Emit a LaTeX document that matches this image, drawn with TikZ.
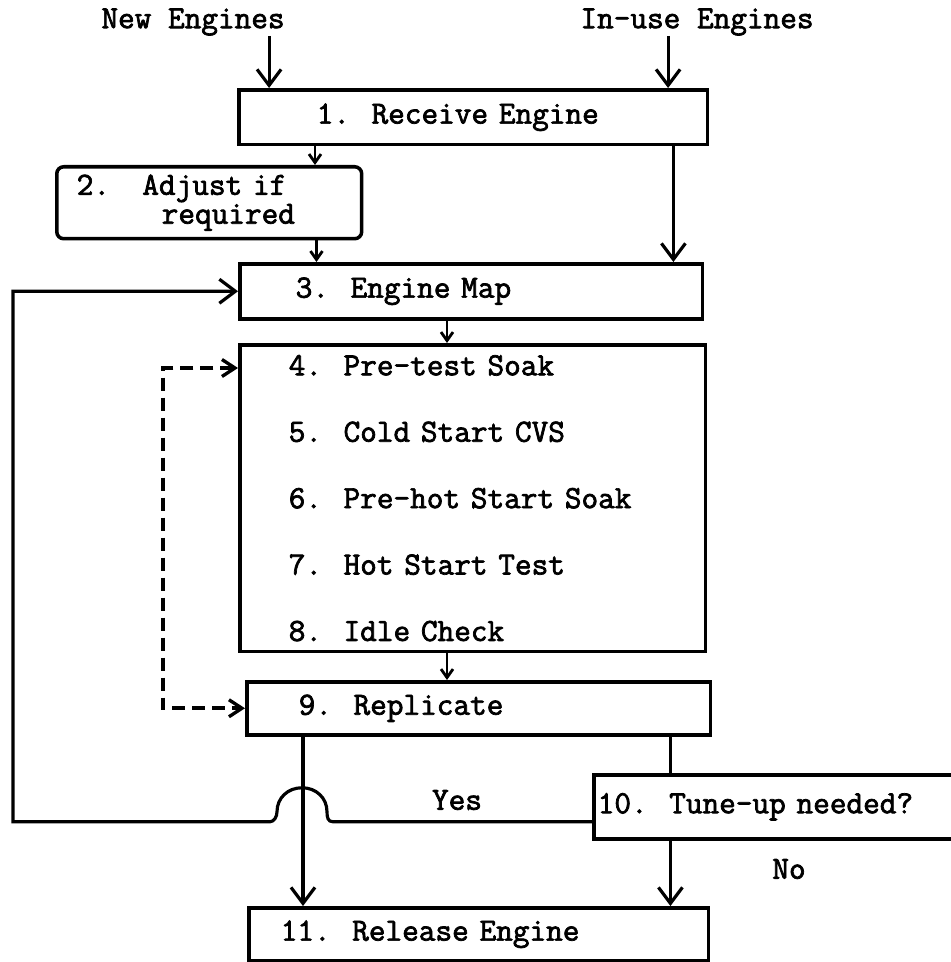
\documentclass[tikz,border=0pt]{standalone}
\usepackage{fontspec}
\usepackage{tikz}
\usetikzlibrary{arrows.meta,calc}
\newfontfamily\tyfont{Latin Modern Mono}[FakeBold=2.2]
\tikzset{
    stage/.style={rectangle, draw, line width=2pt, anchor=north west,
        inner xsep=0pt, inner ysep=0pt, align=left,
        font=\tyfont\fontsize{18.4}{20}\selectfont},
    tag/.style={font=\tyfont\fontsize{18.4}{20}\selectfont, inner sep=0pt},
    flow/.style={-{Straight Barb[length=3.2mm,width=4.8mm,line width=1.8pt]},
        line width=1.8pt},
    nudge/.style={-{Straight Barb[length=1.7mm,width=2.4mm,line width=1.6pt]},
        line width=1.6pt},
    backflow/.style={{Straight Barb[length=2.6mm,width=3.4mm,line width=1.9pt]}-{Straight Barb[length=2.6mm,width=3.4mm,line width=1.9pt]},
        line width=2.1pt, dash pattern=on 0.26cm off 0.14cm}
}

\begin{document}
\begin{tikzpicture}[x=0.02cm, y=-0.02cm]
    \useasboundingbox (0,0) rectangle (950,962);
    % inputs
    \node[tag] (newin) at (193,22) {New Engines};
    \node[tag] (usedin) at (697,22) {In-use Engines};
    % stages
    \node[stage, text width=9.38cm, minimum height=1.10cm] (recv) at (237,88)
        {\hspace*{1.56cm}1.~~Receive Engine};
    \node[stage, rounded corners=4pt, text width=6.10cm, minimum height=1.44cm,
        font=\tyfont\fontsize{18.4}{14}\selectfont] (adjust) at (55,165)
        {\hspace*{0.4cm}2.~~~Adjust if\\\hspace*{2.1cm}required};
    \node[stage, text width=9.26cm, minimum height=1.10cm] (map) at (238,262)
        {\hspace*{1.12cm}3.~~Engine Map};
    \node[stage, text width=9.32cm, minimum height=6.14cm,
        font=\tyfont\fontsize{18.4}{37.8}\selectfont] (tests) at (238,343)
        {\hspace*{0.98cm}4.~~Pre-test Soak\\
         \hspace*{0.98cm}5.~~Cold Start CVS\\
         \hspace*{0.98cm}6.~~Pre-hot Start Soak\\
         \hspace*{0.98cm}7.~~Hot Start Test\\
         \hspace*{0.98cm}8.~~Idle Check};
    \node[stage, text width=9.28cm, minimum height=1.06cm] (repl) at (245,680)
        {\hspace*{1.04cm}9.~~Replicate};
    \node[stage, text width=7.26cm, minimum height=1.28cm] (tune) at (592,773)
        {\hspace*{0.08cm}10.~~Tune-up needed?};
    \node[stage, text width=9.20cm, minimum height=1.06cm] (release) at (247,906)
        {\hspace*{0.64cm}11.~~Release Engine};
    \node[tag] (yes) at (457,800) {Yes};
    \node[tag] (no) at (789,869) {No};
    % connectors
    \draw[flow] ($(newin.south west)+(168,0)$) coordinate (a) -- (a |- recv.north);
    \draw[flow] ($(usedin.south west)+(88,0)$) coordinate (b) -- (b |- recv.north);
    \draw[nudge] ($(recv.south west)+(78,0)$) coordinate (c) -- (c |- adjust.north);
    \draw[flow] ($(recv.south east)+(-36,0)$) coordinate (d) -- (d |- map.north);
    \draw[nudge] ($(adjust.south east)+(-47,0)$) coordinate (e) -- (e |- map.north);
    \draw[nudge] ($(map.south west)+(209,0)$) coordinate (f) -- (f |- tests.north);
    \draw[nudge] ($(tests.south west)+(209,0)$) coordinate (g) -- (g |- repl.north);
    \draw[flow] ($(repl.south west)+(58,0)$) coordinate (h) -- (h |- release.north);
    \draw[line width=1.8pt] ($(repl.south east)+(-42,0)$) coordinate (k) -- (k |- tune.north);
    \draw[flow] (k |- tune.south) -- (k |- release.north);
    % tune-up loop, hopping over the replicate line
    \draw[flow] ($(tune.west)+(0,15)$) -- ++(-259,0)
        .. controls +(-5,0) and +(0,6) .. ++(-6,-10)
        .. controls +(0,-14) and +(14,0) .. ++(-25,-24)
        .. controls +(-14,0) and +(0,-14) .. ++(-25,24)
        .. controls +(0,5) and +(4,0) .. ++(-7,10)
        -- ++(-257,0) |- (map.west);
    % replicate loop
    \draw[backflow] ($(tests.north west)+(0,25)$) -- ++(-75,0) |- (repl.west);
\end{tikzpicture}
\end{document}
